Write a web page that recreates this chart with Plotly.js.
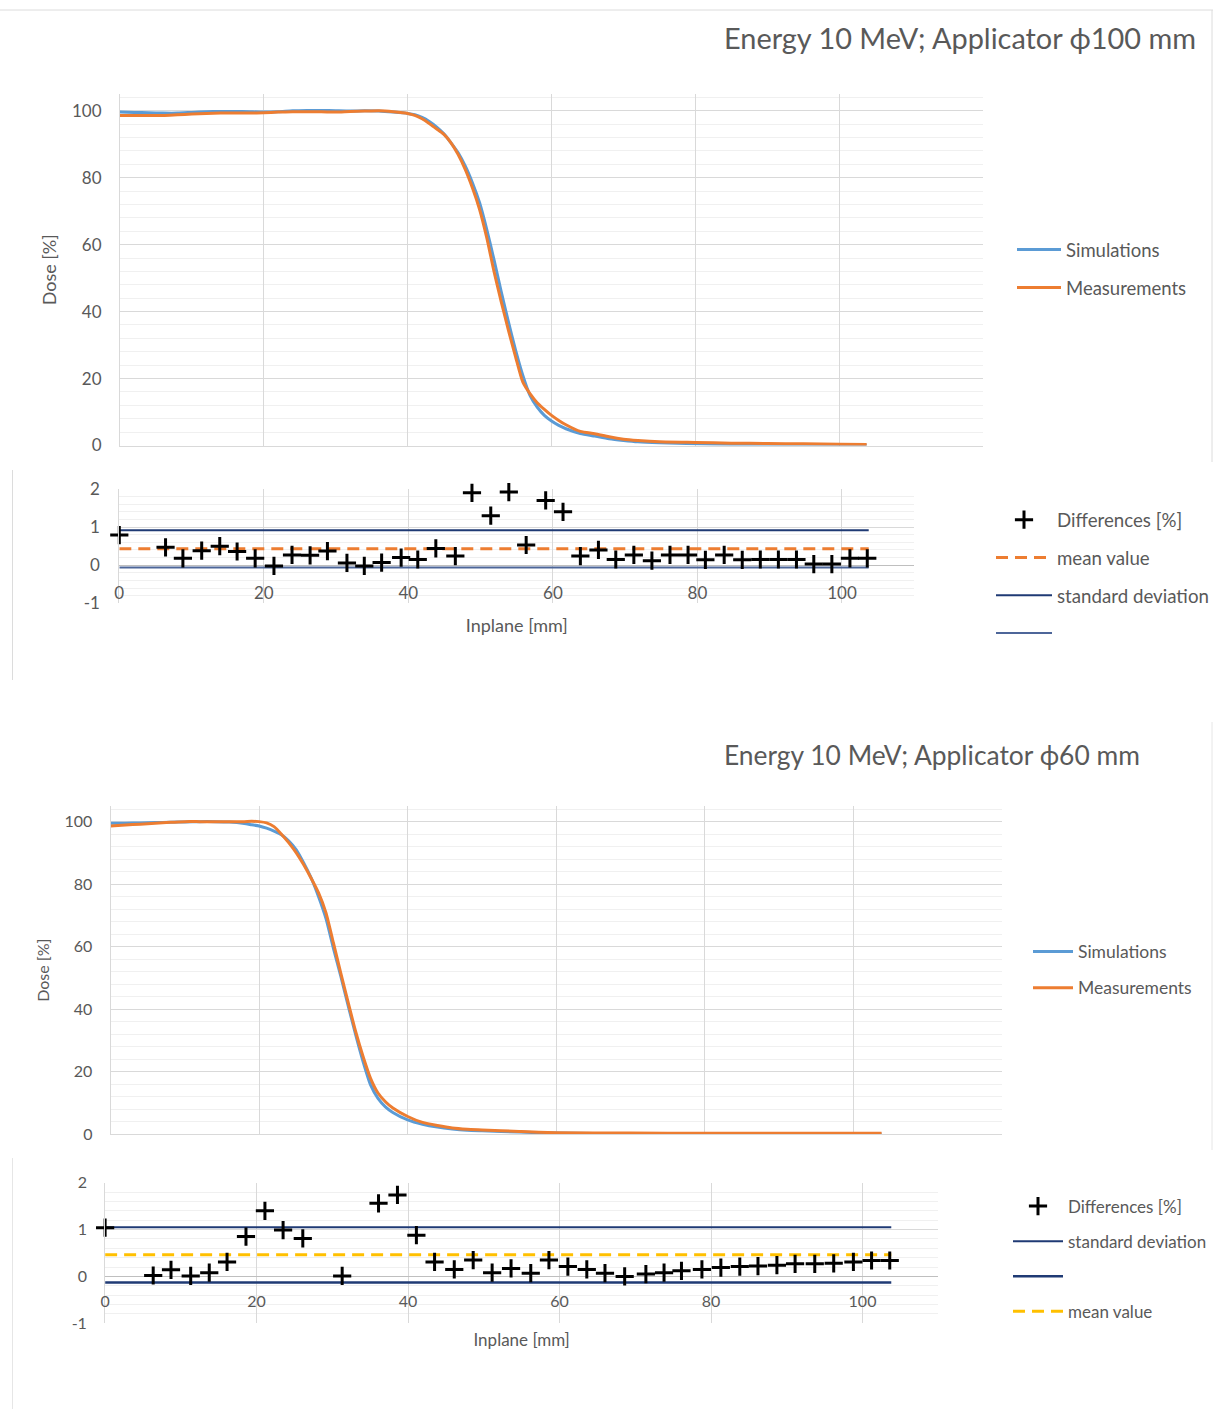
<!DOCTYPE html>
<html>
<head>
<meta charset="utf-8">
<script src="https://cdn.plot.ly/plotly-3.0.1.min.js"></script>
<style>
html,body{margin:0;padding:0;background:#fff;}
#chart{width:1214px;height:1409px;}
</style>
</head>
<body>
<div id="chart"></div>
<script>
// ---------- Panel A: Applicator 100 mm, dose profiles ----------
const doseXA = [0, 2, 4, 6, 8, 10, 12, 14, 16, 18, 20, 22, 24, 26, 28, 30, 32, 34, 36, 38, 40, 41, 42, 43, 44, 45, 46, 47, 48, 49, 50, 51, 52, 53, 54, 55, 56, 57, 58, 59, 60, 61, 62, 64, 66, 68, 70, 72, 75, 80, 85, 90, 95, 100, 103.8];
const simA  = [99.6, 99.5, 99.4, 99.3, 99.3, 99.5, 99.7, 99.8, 99.8, 99.7, 99.6, 99.7, 100.0, 100.1, 100.1, 100.0, 99.9, 100.0, 99.9, 99.6, 99.2, 98.8, 98.0, 96.8, 95.2, 93.2, 90.5, 87.5, 83.5, 78.5, 72.5, 64.5, 55.5, 46.0, 37.0, 28.5, 21.0, 15.0, 11.5, 9.0, 7.3, 6.0, 5.0, 3.6, 2.8, 2.0, 1.5, 1.1, 0.8, 0.5, 0.3, 0.2, 0.1, 0.1, 0.1];
const measA = [98.6, 98.6, 98.6, 98.6, 98.8, 99.0, 99.2, 99.3, 99.3, 99.3, 99.4, 99.6, 99.7, 99.7, 99.7, 99.6, 99.8, 99.9, 100.0, 99.7, 99.2, 98.6, 97.6, 96.2, 94.6, 93.0, 90.5, 87.0, 82.5, 77.0, 70.5, 62.0, 52.0, 43.0, 34.5, 26.5, 19.0, 15.5, 12.8, 10.8, 9.0, 7.5, 6.2, 4.2, 3.5, 2.6, 1.9, 1.5, 1.1, 0.9, 0.7, 0.6, 0.5, 0.4, 0.3];

// ---------- Panel B: Applicator 100 mm, differences ----------
const diffXB = [0, 6.4, 8.8, 11.4, 13.9, 16.3, 18.8, 21.4, 23.9, 26.4, 28.8, 31.5, 33.9, 36.3, 39.0, 41.3, 43.8, 46.5, 48.8, 51.4, 53.9, 56.3, 59.0, 61.4, 63.8, 66.3, 68.7, 71.2, 73.7, 76.2, 78.7, 81.1, 83.7, 86.2, 88.7, 91.2, 93.7, 96.1, 98.6, 101.1, 103.5];
const diffB  = [0.79, 0.47, 0.18, 0.38, 0.50, 0.36, 0.18, -0.02, 0.27, 0.26, 0.37, 0.06, -0.02, 0.07, 0.20, 0.15, 0.44, 0.24, 1.90, 1.30, 1.92, 0.53, 1.70, 1.40, 0.24, 0.40, 0.15, 0.27, 0.12, 0.27, 0.27, 0.14, 0.27, 0.14, 0.15, 0.15, 0.15, 0.03, 0.03, 0.18, 0.18];
const refLineXB = [0, 103.7];
const meanB = [0.43, 0.43];
const stdUpperB = [0.92, 0.92];
const stdLowerB = [-0.06, -0.06];

// ---------- Panel C: Applicator 60 mm, dose profiles ----------
const doseXC = [0, 2, 4, 6, 8, 10, 12, 14, 16, 17, 18, 19, 20, 21, 22, 23, 24, 25, 26, 27, 28, 29, 30, 31, 32, 33, 34, 35, 36, 37, 38, 40, 42, 44, 46, 48, 50, 55, 60, 70, 80, 90, 100, 103.8];
const simC  = [99.5, 99.5, 99.6, 99.7, 99.8, 99.9, 100.0, 100.0, 99.9, 99.7, 99.4, 99.0, 98.6, 97.9, 97.0, 95.8, 93.8, 91.0, 86.8, 82.0, 76.0, 69.0, 59.5, 50.5, 41.0, 31.8, 23.2, 15.8, 11.5, 8.8, 7.0, 4.6, 3.2, 2.3, 1.7, 1.3, 1.1, 0.7, 0.4, 0.2, 0.1, 0.1, 0.1, 0.1];
const measC = [98.6, 98.9, 99.2, 99.5, 99.8, 100.0, 100.0, 100.0, 100.0, 100.0, 100.0, 100.1, 100.0, 99.6, 98.4, 96.0, 93.2, 90.0, 86.2, 81.9, 77.2, 70.8, 61.2, 51.5, 42.0, 32.8, 24.8, 17.9, 13.2, 10.4, 8.4, 5.7, 3.8, 2.8, 2.0, 1.6, 1.4, 0.9, 0.5, 0.4, 0.3, 0.3, 0.3, 0.3];

// ---------- Panel D: Applicator 60 mm, differences ----------
const diffXD = [0, 6.35, 8.7, 11.3, 13.75, 16.1, 18.6, 21.1, 23.5, 26.1, 31.3, 36.1, 38.6, 41.1, 43.5, 46.1, 48.6, 51.1, 53.6, 56.2, 58.6, 61.1, 63.6, 66.0, 68.6, 71.4, 73.8, 76.1, 78.8, 81.3, 83.8, 86.2, 88.7, 91.1, 93.7, 96.2, 98.8, 101.2, 103.6];
const diffD  = [1.04, 0.02, 0.14, 0.01, 0.08, 0.31, 0.85, 1.40, 0.99, 0.81, 0.01, 1.56, 1.74, 0.88, 0.31, 0.15, 0.35, 0.08, 0.17, 0.07, 0.35, 0.21, 0.15, 0.07, 0.00, 0.05, 0.08, 0.12, 0.15, 0.19, 0.21, 0.22, 0.24, 0.27, 0.27, 0.28, 0.31, 0.34, 0.34];
const refLineXD = [0, 103.8];
const meanD = [0.46, 0.46];
const stdUpperD = [1.05, 1.05];
const stdLowerD = [-0.13, -0.13];

// ---------- Tick labels / texts ----------
const diffTickVals = [-1, 0, 1, 2];
const diffTickText = ['-1', '0', '1', '2'];
const titleA = 'Energy 10 MeV; Applicator \u03D5100 mm';
const titleC = 'Energy 10 MeV; Applicator \u03D560 mm';

// ---------- geometry helpers (pixels -> paper) ----------
const W = 1214, H = 1409;
const fx = p => p / W;
const fy = p => 1 - p / H;

const FONT = 'Lato, "Open Sans", sans-serif';
const GRAY = '#595959';
const GRID = '#d9d9d9';
const MINOR = '#f0f0f0';
const BLUE = '#5b9bd5', ORANGE = '#ed7d31';
const NAVY = '#1f3a74', SLATE = '#4d6699', YELLOW = '#ffc000';

const crossMarker = {symbol: 'cross-thin', size: 13, color: '#000', line: {color: '#000', width: 3}};

const traces = [
  // Panel A
  {x: doseXA, y: simA, name: 'Simulations', type: 'scatter', mode: 'lines', xaxis: 'x', yaxis: 'y',
   line: {color: BLUE, width: 3, shape: 'spline', smoothing: 0.6}, legend: 'legend', legendgroup: 'a1'},
  {x: doseXA, y: measA, name: 'Measurements', type: 'scatter', mode: 'lines', xaxis: 'x', yaxis: 'y',
   line: {color: ORANGE, width: 3, shape: 'spline', smoothing: 0.6}, legend: 'legend', legendgroup: 'a2'},
  // Panel B
  {x: refLineXB, y: stdUpperB, name: 'standard deviation', type: 'scatter', mode: 'lines', xaxis: 'x2', yaxis: 'y2',
   line: {color: NAVY, width: 2}, legend: 'legend2', legendgroup: 'b3', legendrank: 3},
  {x: refLineXB, y: stdLowerB, name: ' ', type: 'scatter', mode: 'lines', xaxis: 'x2', yaxis: 'y2',
   line: {color: SLATE, width: 2}, legend: 'legend2', legendgroup: 'b4', legendrank: 4},
  {x: refLineXB, y: meanB, name: 'mean value', type: 'scatter', mode: 'lines', xaxis: 'x2', yaxis: 'y2',
   line: {color: ORANGE, width: 3, dash: '12px,7px'}, legend: 'legend2', legendgroup: 'b2', legendrank: 2},
  {x: diffXB, y: diffB, name: 'Differences [%]', type: 'scatter', mode: 'markers', xaxis: 'x2', yaxis: 'y2',
   marker: crossMarker, cliponaxis: false, legend: 'legend2', legendgroup: 'b1', legendrank: 1},
  // Panel C
  {x: doseXC, y: simC, name: 'Simulations', type: 'scatter', mode: 'lines', xaxis: 'x3', yaxis: 'y3',
   line: {color: BLUE, width: 3, shape: 'spline', smoothing: 0.6}, legend: 'legend3', legendgroup: 'c1'},
  {x: doseXC, y: measC, name: 'Measurements', type: 'scatter', mode: 'lines', xaxis: 'x3', yaxis: 'y3',
   line: {color: ORANGE, width: 3, shape: 'spline', smoothing: 0.6}, legend: 'legend3', legendgroup: 'c2'},
  // Panel D
  {x: refLineXD, y: stdUpperD, name: 'standard deviation', type: 'scatter', mode: 'lines', xaxis: 'x4', yaxis: 'y4',
   line: {color: NAVY, width: 2}, legend: 'legend4', legendgroup: 'd2', legendrank: 2},
  {x: refLineXD, y: stdLowerD, name: ' ', type: 'scatter', mode: 'lines', xaxis: 'x4', yaxis: 'y4',
   line: {color: NAVY, width: 2.5}, legend: 'legend4', legendgroup: 'd3', legendrank: 3},
  {x: refLineXD, y: meanD, name: 'mean value', type: 'scatter', mode: 'lines', xaxis: 'x4', yaxis: 'y4',
   line: {color: YELLOW, width: 3, dash: '12px,7px'}, legend: 'legend4', legendgroup: 'd4', legendrank: 4},
  {x: diffXD, y: diffD, name: 'Differences [%]', type: 'scatter', mode: 'markers', xaxis: 'x4', yaxis: 'y4',
   marker: crossMarker, cliponaxis: false, legend: 'legend4', legendgroup: 'd1', legendrank: 1}
];

const tf = s => ({family: FONT, size: s, color: GRAY});
const hideTicks = len => ({ticks: 'outside', ticklen: len, tickcolor: 'rgba(0,0,0,0)'});

const layout = {
  width: W, height: H,
  margin: {l: 0, r: 0, t: 0, b: 0},
  paper_bgcolor: '#fff', plot_bgcolor: '#fff',
  font: {family: FONT, color: GRAY},
  showlegend: true,
  // Panel A axes
  xaxis: {domain: [fx(120), fx(984)], range: [0, 120], dtick: 20, tick0: 0, ticks: '',
    showticklabels: false, showgrid: true, gridcolor: GRID, zeroline: false,
    showline: true, linecolor: GRID, anchor: 'y'},
  yaxis: Object.assign({domain: [fy(445.5), fy(94)], range: [0, 105], dtick: 20, tick0: 0,
    showgrid: true, gridcolor: GRID, zeroline: false, showline: true, linecolor: GRID,
    minor: {dtick: 4, tick0: 0, showgrid: true, gridcolor: MINOR, ticks: ''},
    tickfont: tf(17), anchor: 'x',
    title: {text: 'Dose [%]', font: tf(18), standoff: 10}}, hideTicks(14)),
  // Panel B axes
  xaxis2: Object.assign({domain: [fx(119.4), fx(915)], range: [0, 110], dtick: 20, tick0: 0,
    showgrid: true, gridcolor: GRID, zeroline: false, showline: false,
    anchor: 'free', position: fy(565.2), tickfont: tf(17),
    title: {text: 'Inplane [mm]', font: tf(18), standoff: 17}}, hideTicks(12)),
  yaxis2: Object.assign({domain: [fy(603.3), fy(489)], range: [-1, 2],
    tickmode: 'array', tickvals: diffTickVals, ticktext: diffTickText,
    showgrid: true, gridcolor: GRID, zeroline: true, zerolinecolor: '#bfbfbf', zerolinewidth: 1,
    showline: true, linecolor: GRID, anchor: 'x2',
    minor: {dtick: 0.2, tick0: 0, showgrid: true, gridcolor: MINOR, ticks: ''},
    tickfont: tf(17)}, hideTicks(15)),
  // Panel C axes
  xaxis3: {domain: [fx(110.7), fx(1002.7)], range: [0, 120], dtick: 20, tick0: 0, ticks: '',
    showticklabels: false, showgrid: true, gridcolor: GRID, zeroline: false,
    showline: true, linecolor: GRID, anchor: 'y3'},
  yaxis3: Object.assign({domain: [fy(1134.3), fy(806)], range: [0, 105], dtick: 20, tick0: 0,
    showgrid: true, gridcolor: GRID, zeroline: false, showline: true, linecolor: GRID,
    minor: {dtick: 4, tick0: 0, showgrid: true, gridcolor: MINOR, ticks: ''},
    tickfont: tf(16), anchor: 'x3',
    title: {text: 'Dose [%]', font: tf(16), standoff: 10}}, hideTicks(14)),
  // Panel D axes
  xaxis4: Object.assign({domain: [fx(105.2), fx(939)], range: [0, 110], dtick: 20, tick0: 0,
    showgrid: true, gridcolor: GRID, zeroline: false, showline: false,
    anchor: 'free', position: fy(1276.4), tickfont: tf(16),
    title: {text: 'Inplane [mm]', font: tf(17), standoff: 25}}, hideTicks(10)),
  yaxis4: Object.assign({domain: [fy(1323.3), fy(1182.7)], range: [-1, 2],
    tickmode: 'array', tickvals: diffTickVals, ticktext: diffTickText,
    showgrid: true, gridcolor: GRID, zeroline: true, zerolinecolor: '#bfbfbf', zerolinewidth: 1.5,
    showline: true, linecolor: GRID, anchor: 'x4',
    minor: {dtick: 0.2, tick0: 0, showgrid: true, gridcolor: MINOR, ticks: ''},
    tickfont: tf(16)}, hideTicks(14)),
  legend: {x: fx(1012), y: fy(231), xanchor: 'left', yanchor: 'top', bgcolor: 'rgba(0,0,0,0)',
    font: tf(18.5), traceorder: 'grouped', tracegroupgap: 11, itemwidth: 44},
  legend2: {x: fx(992), y: fy(501), xanchor: 'left', yanchor: 'top', bgcolor: 'rgba(0,0,0,0)',
    font: tf(18.7), traceorder: 'grouped', tracegroupgap: 10.5, itemwidth: 56},
  legend3: {x: fx(1028), y: fy(933.5), xanchor: 'left', yanchor: 'top', bgcolor: 'rgba(0,0,0,0)',
    font: tf(17.5), traceorder: 'grouped', tracegroupgap: 10.5, itemwidth: 40},
  legend4: {x: fx(1008), y: fy(1188.5), xanchor: 'left', yanchor: 'top', bgcolor: 'rgba(0,0,0,0)',
    font: tf(17), traceorder: 'grouped', tracegroupgap: 10, itemwidth: 50},
  annotations: [
    {text: titleA, xref: 'paper', yref: 'paper', x: fx(1199), y: fy(38), xanchor: 'right', yanchor: 'middle',
     showarrow: false, font: {family: FONT, size: 28.9, color: GRAY}},
    {text: titleC, xref: 'paper', yref: 'paper', x: fx(1143), y: fy(755), xanchor: 'right', yanchor: 'middle',
     showarrow: false, font: {family: FONT, size: 26.4, color: GRAY}}
  ],
  shapes: [
    {type: 'line', xref: 'paper', yref: 'paper', x0: 0, x1: 1, y0: fy(10), y1: fy(10), line: {color: '#dcdcdc', width: 1}},
    {type: 'line', xref: 'paper', yref: 'paper', x0: fx(1213), x1: fx(1213), y0: fy(10), y1: fy(462), line: {color: '#dcdcdc', width: 1}},
    {type: 'line', xref: 'paper', yref: 'paper', x0: fx(12.5), x1: fx(12.5), y0: fy(470), y1: fy(680), line: {color: '#dcdcdc', width: 1}},
    {type: 'line', xref: 'paper', yref: 'paper', x0: fx(1213), x1: fx(1213), y0: fy(722), y1: fy(1150), line: {color: '#e6e6e6', width: 1}},
    {type: 'line', xref: 'paper', yref: 'paper', x0: fx(12.5), x1: fx(12.5), y0: fy(1158), y1: fy(1409), line: {color: '#e6e6e6', width: 1}}
  ]
};

Plotly.newPlot('chart', traces, layout, {staticPlot: true, displayModeBar: false});
</script>
</body>
</html>
